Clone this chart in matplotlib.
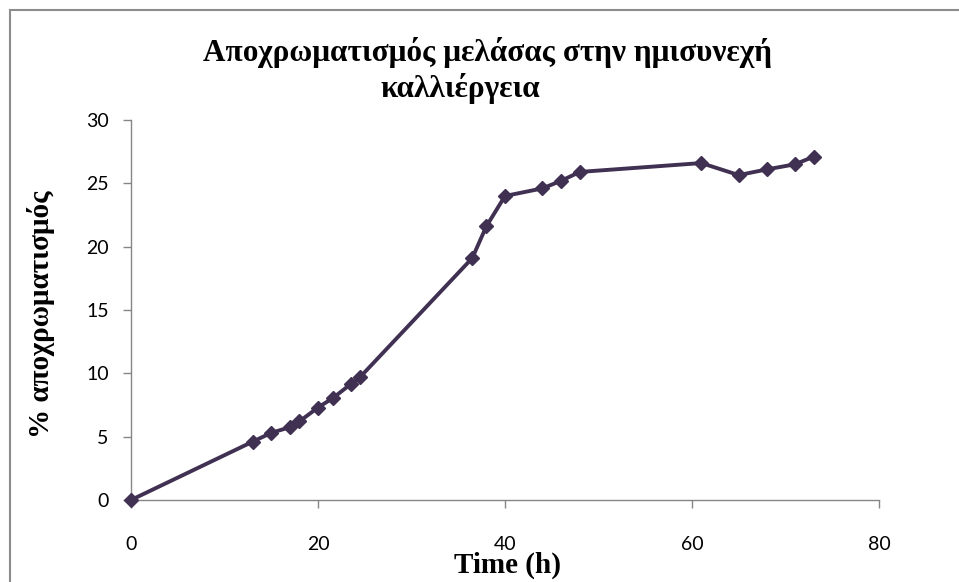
import matplotlib
matplotlib.use("Agg")
from matplotlib import pyplot as plt
from matplotlib.patches import Rectangle

# time (h) and % decolorisation
time_h = [0, 13, 15, 17, 18, 20, 21.6, 23.5, 24.5, 36.5, 38, 40, 44, 46, 48,
          61, 65, 68, 71, 73]
decolor = [0, 4.6, 5.3, 5.75, 6.2, 7.3, 8.05, 9.15, 9.7, 19.1, 21.6, 24.0,
           24.6, 25.2, 25.9, 26.6, 25.65, 26.1, 26.5, 27.1]

x_ticks = [0, 20, 40, 60, 80]
y_ticks = [0, 5, 10, 15, 20, 25, 30]

title_1 = "Αποχρωματισμός μελάσας στην ημισυνεχή"
title_2 = "καλλιέργεια"
xlabel = "Time (h)"
ylabel = "% αποχρωματισμός"

line_col = "#403152"
axis_col = "#868686"

fig = plt.figure(figsize=(9.59, 5.82), dpi=100)
ax = fig.add_axes([131 / 959, 82 / 582, 748 / 959, 380 / 582])

ax.plot(time_h, decolor, color=line_col, lw=2.8, marker="D", markersize=7.5,
        markerfacecolor=line_col, markeredgecolor=line_col, clip_on=False, zorder=3)

ax.set_xlim(0, 80)
ax.set_ylim(0, 30)
ax.set_xticks(x_ticks)
ax.set_yticks(y_ticks)

for side in ["top", "right"]:
    ax.spines[side].set_visible(False)
for side in ["left", "bottom"]:
    ax.spines[side].set_color(axis_col)
    ax.spines[side].set_linewidth(1.0)

ax.tick_params(axis="both", direction="out", length=6, width=1.0, color=axis_col,
               labelsize=14, labelcolor="black")
ax.tick_params(axis="x", pad=20)
ax.tick_params(axis="y", pad=10)
for lab in ax.get_xticklabels() + ax.get_yticklabels():
    lab.set_family("Lato")

fig.text(487 / 959, 1 - 52 / 582, title_1, ha="center", va="center",
         family="Liberation Serif", fontweight="bold", fontsize=22.5)
fig.text(460 / 959, 1 - 89 / 582, title_2, ha="center", va="center",
         family="Liberation Serif", fontweight="bold", fontsize=22.5)
fig.text(508 / 959, 1 - 565 / 582, xlabel, ha="center", va="center",
         family="Liberation Serif", fontweight="bold", fontsize=21)
fig.text(41 / 959, 1 - 314 / 582, ylabel, ha="center", va="center", rotation=90,
         family="Liberation Serif", fontweight="bold", fontsize=21)

# grey chart-area border like the spreadsheet export
fig.patches.append(Rectangle((9.5 / 959, -0.05), 1.1, 1 - 9.5 / 582 + 0.05,
                             transform=fig.transFigure, fill=False,
                             edgecolor="#8c8c8c", lw=1.5))

fig.savefig("out.png", dpi=100)
